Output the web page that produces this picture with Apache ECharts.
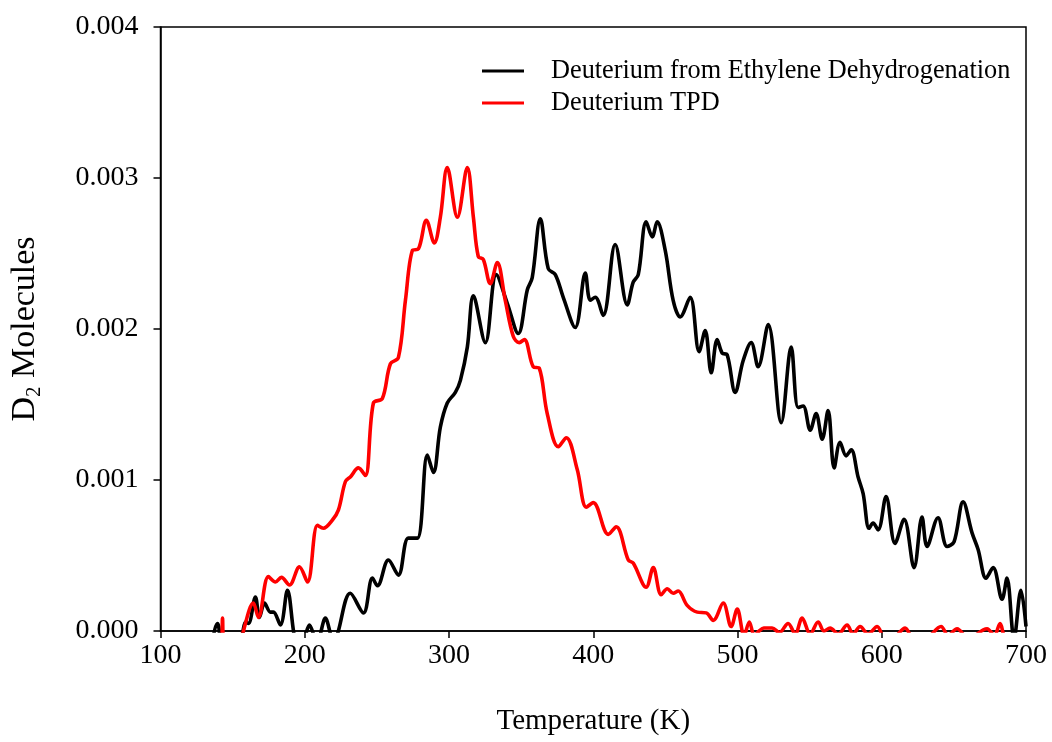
<!DOCTYPE html>
<html>
<head>
<meta charset="utf-8">
<script src="https://cdn.jsdelivr.net/npm/echarts@6/dist/echarts.min.js"></script>
<style>html,body{margin:0;padding:0;background:#fff}#c{width:1052px;height:742px}</style>
</head>
<body>
<div id="c"></div>
<script>
// Values in units of 0.001 D2 molecules; negative values fall below the axis and are clipped (gaps)
const blackT = [130,134,139.5,143,150,155,157,159,161,165.8,168.6,172.1,176.2,178.3,183.1,188.0,192.2,195,198,200.8,203.2,206,209,210.9,214.3,217.8,220,223.3,231.6,240.7,246.9,250.4,258.0,264.9,271.8,278.1,285.0,289.2,294.0,298.8,304.4,307.9,312.7,316.9,325.2,332.8,340.4,348.0,354.3,357.7,363.3,368.8,373.7,379.2,387.5,394.5,397.9,401.4,406.9,415.2,423.6,427.7,431.2,436.7,440.9,444.3,449.9,455.4,460.3,467.2,473.4,477.6,481.8,485.9,489.4,492.8,498.4,503.9,509.5,514.3,521.3,530.3,537.2,542.0,545.5,550.4,554.5,558.7,562.8,567.0,571.1,575.3,578.8,583.6,587.1,591.2,594.0,597.5,603.0,609.2,615.5,622.4,627.9,631.4,639.0,645.3,650.1,656.4,662.6,666.8,672.3,677.2,683.4,686.8,691.7,696.5,700];
const blackV = [-0.3,-0.15,0.05,-0.15,-0.25,-0.1,-0.01,0.06,0.05,0.225,0.09,0.185,0.125,0.125,0.04,0.27,0.0,-0.15,-0.12,-0.02,0.04,-0.02,-0.12,-0.02,0.085,-0.02,-0.12,0.0,0.25,0.12,0.35,0.30,0.47,0.37,0.615,0.615,1.165,1.05,1.35,1.51,1.58,1.66,1.88,2.22,1.91,2.36,2.17,1.97,2.26,2.34,2.73,2.40,2.36,2.21,2.01,2.37,2.19,2.21,2.09,2.56,2.16,2.31,2.36,2.71,2.61,2.71,2.52,2.19,2.08,2.21,1.85,1.99,1.71,1.93,1.84,1.83,1.58,1.79,1.91,1.75,2.03,1.38,1.88,1.48,1.49,1.33,1.44,1.27,1.46,1.08,1.25,1.16,1.20,1.02,0.91,0.68,0.715,0.67,0.89,0.58,0.74,0.42,0.755,0.56,0.75,0.56,0.59,0.855,0.65,0.54,0.35,0.42,0.21,0.35,-0.05,0.27,0.03];
const redT = [130,138,142.2,143.0,143.8,150,157.5,164.4,167.9,174.8,179.7,183.8,189.4,196.3,201.9,208.8,212.9,219.2,223.3,228.2,231.6,237.2,242.0,247.6,253.8,259.4,264.9,269.8,274.6,278.8,284.3,289.8,294.0,298.8,305.8,312.7,316.9,320.3,323.8,328.6,333.5,339.0,344.6,348.7,352.2,358.4,362.6,368.1,375.8,381.3,388.9,395.2,400.0,410.4,415.9,424.3,427.7,436.7,441.6,447.1,451.3,455.4,458.9,465.1,472.1,478.3,483.2,490.1,495.6,499.8,504.6,508.2,511.7,515,518.2,524,529,535.1,540,544.8,550.4,555.9,560,564.2,569.8,576.0,580.1,585.0,590.5,596.8,602.3,609,616.2,622,630,641.1,646,652.2,660,673,678,682.0,686,700];
const redV = [-0.3,-0.2,-0.1,0.085,-0.1,-0.3,0.0,0.185,0.09,0.36,0.325,0.355,0.305,0.425,0.325,0.70,0.68,0.735,0.80,0.99,1.02,1.08,1.03,1.51,1.54,1.77,1.81,2.19,2.52,2.53,2.72,2.57,2.74,3.07,2.74,3.07,2.74,2.48,2.46,2.30,2.44,2.19,1.95,1.91,1.93,1.75,1.74,1.44,1.22,1.28,1.07,0.82,0.85,0.64,0.69,0.47,0.45,0.29,0.42,0.24,0.28,0.25,0.265,0.17,0.125,0.12,0.07,0.185,0.03,0.145,-0.03,0.06,-0.03,0.0,0.02,0.02,-0.01,0.05,-0.02,0.085,-0.02,0.06,0.0,0.02,-0.02,0.04,-0.02,0.03,-0.02,0.03,-0.05,-0.04,0.02,-0.05,-0.05,0.03,-0.03,0.015,-0.05,0.015,-0.03,0.05,-0.05,-0.1];
const seriesNames = ['Deuterium from Ethylene Dehydrogenation','Deuterium TPD'];
const xTicks = {min:100, max:700, interval:100};
const yTicks = {min:0, max:0.004, interval:0.001};

const font = 'Liberation Serif';
const chart = echarts.init(document.getElementById('c'));
const pairs = (T, V) => T.map((t, i) => [t, V[i] * 0.001]);
chart.setOption({
  animation: false,
  backgroundColor: '#fff',
  grid: {left: 160, right: 26, top: 27, bottom: 111, show: true, borderColor: '#000', borderWidth: 1.5, backgroundColor: 'transparent'},
  legend: {
    orient: 'vertical', left: 477, top: 53, itemWidth: 42, itemHeight: 3, itemGap: 6, icon: 'rect',
    data: seriesNames,
    textStyle: {fontFamily: font, fontSize: 26.3, color: '#000', padding: [0, 0, 0, 22], lineHeight: 25}
  },
  xAxis: {
    type: 'value', min: xTicks.min, max: xTicks.max, interval: xTicks.interval,
    name: 'Temperature (K)', nameLocation: 'middle', nameGap: 76,
    nameTextStyle: {fontFamily: font, fontSize: 29, color: '#000'},
    axisLine: {show: true, lineStyle: {color: '#000', width: 1.5}},
    axisTick: {show: true, inside: false, length: 7, lineStyle: {color: '#000', width: 1.5}},
    axisLabel: {fontFamily: font, fontSize: 28, color: '#000', margin: 11},
    splitLine: {show: false}
  },
  yAxis: {
    type: 'value', min: yTicks.min, max: yTicks.max, interval: yTicks.interval,
    name: '{a|D}{b|2}{a| Molecules}', nameLocation: 'middle', nameGap: 116, nameRotate: 90,
    nameTextStyle: {fontFamily: font, color: '#000',
      rich: {a: {fontFamily: font, fontSize: 34, color: '#000'}, b: {fontFamily: font, fontSize: 21, color: '#000', padding: [18, 0, 0, 0]}}},
    axisLine: {show: true, lineStyle: {color: '#000', width: 1.5}},
    axisTick: {show: true, inside: false, length: 7, lineStyle: {color: '#000', width: 1.5}},
    axisLabel: {fontFamily: font, fontSize: 28, color: '#000', margin: 22, formatter: v => v.toFixed(3)},
    splitLine: {show: false}
  },
  series: [
    {name: seriesNames[0], type: 'line', data: pairs(blackT, blackV), smooth: 0.35, showSymbol: false, clip: true,
     lineStyle: {color: '#000', width: 3.6}, itemStyle: {color: '#000'}},
    {name: seriesNames[1], type: 'line', data: pairs(redT, redV), smooth: 0.35, showSymbol: false, clip: true,
     lineStyle: {color: '#ff0000', width: 3.6}, itemStyle: {color: '#ff0000'}}
  ]
});
</script>
</body>
</html>
